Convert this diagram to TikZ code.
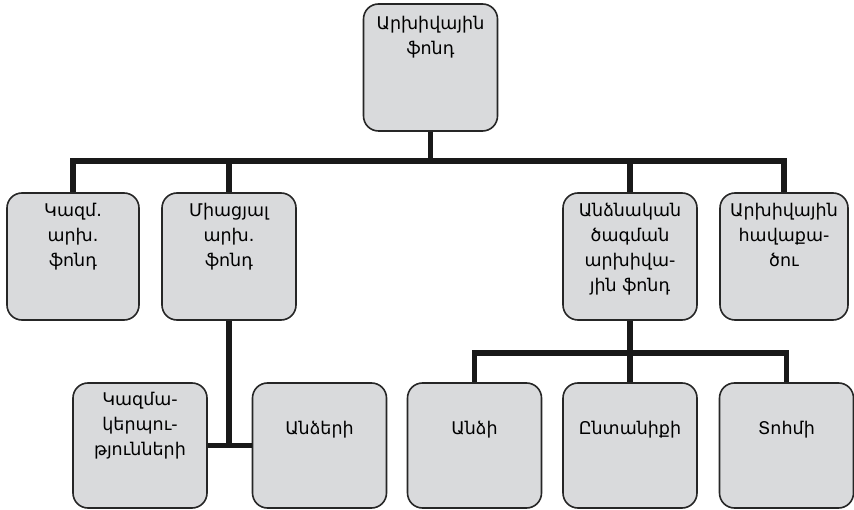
\documentclass[tikz,border=0pt]{standalone}
\usepackage{fontspec}
\setmainfont{DejaVu Sans}
\definecolor{boxgray}{HTML}{D9DADC}
\newcommand{\bt}[3][127pt]{\parbox[c][#1][t]{124pt}{\centering\fontsize{17.5}{25}\selectfont\rule{0pt}{#2}#3}}
\begin{document}
\begin{tikzpicture}[x=1pt,y=-1pt,
  box/.style={draw=black!85,line width=1.6pt,fill=boxgray,rounded corners=15pt,
    inner sep=0pt,minimum width=134pt,minimum height=127pt},
  conn/.style={line width=5.5pt,black!90,line join=miter}]
\useasboundingbox (0,0) rectangle (854,510);
% nodes
\node[box] (top) at (430.5,67.5) {\bt{26pt}{Արխիվային\\ֆոնդ}};
\node[box,minimum width=132pt] (b1) at (73,256.5) {\bt{24pt}{Կազմ.\\արխ.\\ֆոնդ}};
\node[box] (b2) at (229,256.5) {\bt{24pt}{Միացյալ\\արխ.\\ֆոնդ}};
\node[box] (b3) at (630,256.5) {\bt{24pt}{Անձնական\\ծագման\\արխիվա-\\յին ֆոնդ}};
\node[box,minimum width=128pt] (b4) at (784,256.5) {\bt{24pt}{Արխիվային\\հավաքա-\\ծու}};
\node[box,minimum height=125pt] (c1) at (140,445.5) {\bt[125pt]{22pt}{Կազմա-\\կերպու-\\թյունների}};
\node[box,minimum height=125pt] (c2) at (319.5,445.5) {\bt[125pt]{51pt}{Անձերի}};
\node[box,minimum height=125pt] (d1) at (474.5,445.5) {\bt[125pt]{51pt}{Անձի}};
\node[box,minimum height=125pt] (d2) at (630,445.5) {\bt[125pt]{51pt}{Ընտանիքի}};
\node[box,minimum height=125pt] (d3) at (786.5,445.5) {\bt[125pt]{51pt}{Տոհմի}};
\coordinate (bar1) at (430.5,161);
\coordinate (bar2) at (630,353);
% connectors
\draw[conn] (top.south) -- (bar1);
\draw[conn] (b1.north) |- (bar1) -| (b4.north);
\draw[conn] (b2.north) -- (b2.north |- bar1);
\draw[conn] (b3.north) -- (b3.north |- bar1);
\draw[conn] (b2.south) -- (b2.south |- c1.east);
\draw[conn] (c1.east) -- (c2.west);
\draw[conn] (b3.south) -- (d2.north);
\draw[conn] (d1.north) |- (bar2) -| (d3.north);
\end{tikzpicture}
\end{document}
